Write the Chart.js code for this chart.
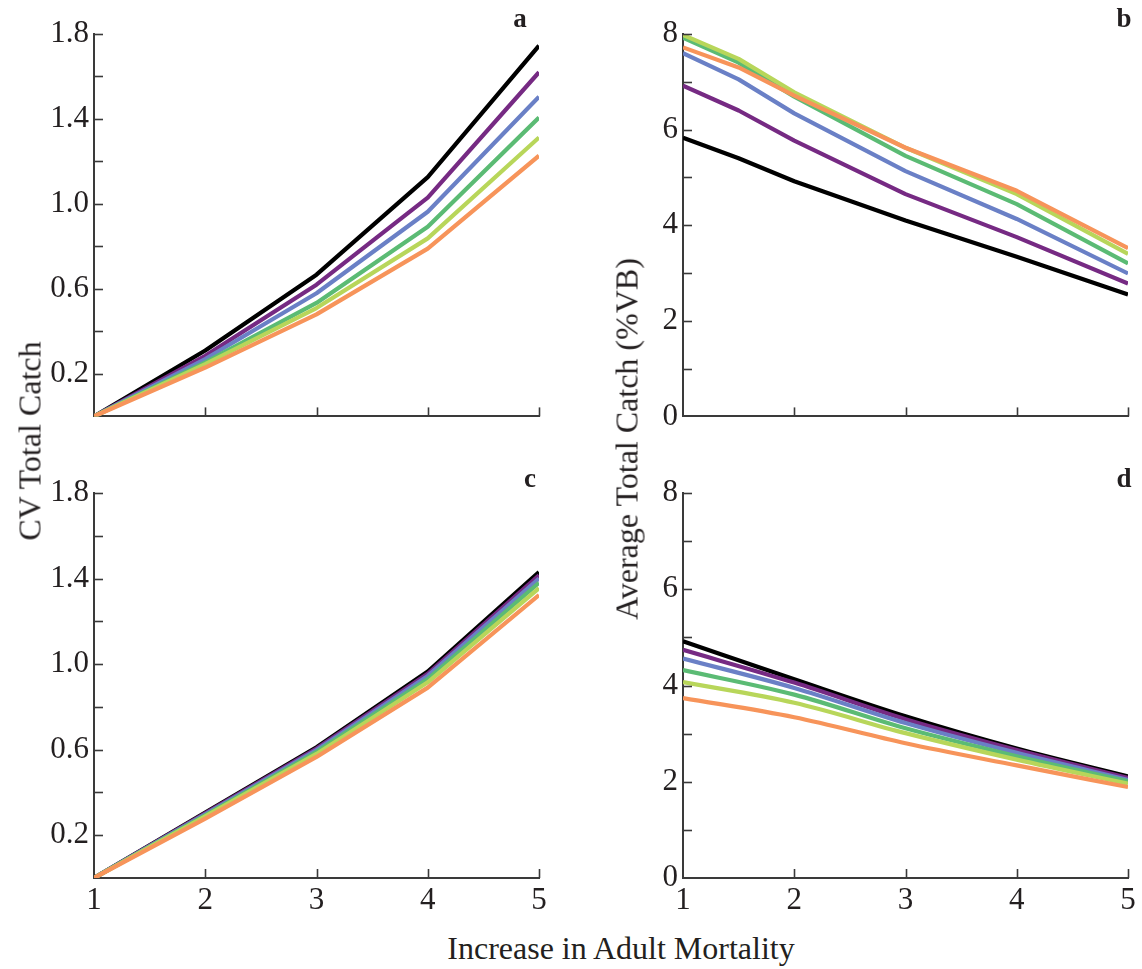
<!DOCTYPE html>
<html>
<head>
<meta charset="utf-8">
<script src="https://cdn.jsdelivr.net/npm/chart.js@4/dist/chart.umd.min.js"></script>
<style>
  html, body { margin: 0; padding: 0; background: #ffffff; }
  #wrap { position: relative; width: 1142px; height: 969px; background: #ffffff; overflow: hidden; }
  canvas { position: absolute; }
  .t { position: absolute; font-family: "Liberation Serif", "Times New Roman", serif; color: #231f20; white-space: nowrap; }
  .title { font-size: 32px; }
  .letter { font-size: 27px; font-weight: bold; }
</style>
</head>
<body>
<div id="wrap">
  <canvas id="ca" width="560" height="440" style="left:0px;top:0px;"></canvas>
  <canvas id="cb" width="553" height="440" style="left:589px;top:0px;"></canvas>
  <canvas id="cc" width="560" height="480" style="left:0px;top:440px;"></canvas>
  <canvas id="cd" width="553" height="480" style="left:589px;top:440px;"></canvas>
  <div class="t title" style="left:30px;top:441px;transform:translate(-50%,-50%) rotate(-90deg);">CV Total Catch</div>
  <div class="t title" style="left:627px;top:439px;transform:translate(-50%,-50%) rotate(-90deg);">Average Total Catch (%VB)</div>
  <div class="t title" style="left:621px;top:948px;transform:translate(-50%,-50%);">Increase in Adult Mortality</div>
  <div class="t letter" style="left:520px;top:18px;transform:translate(-50%,-50%);">a</div>
  <div class="t letter" style="left:1124px;top:18px;transform:translate(-50%,-50%);">b</div>
  <div class="t letter" style="left:530px;top:478px;transform:translate(-50%,-50%);">c</div>
  <div class="t letter" style="left:1124px;top:478px;transform:translate(-50%,-50%);">d</div>
</div>
<script>
// ---------- data ----------
const xsA = [1, 2, 3, 4, 5];
const xsB = [1, 1.5, 2, 3, 4, 5];
const xsC = [1, 2, 3, 4, 5];
const xsD = [1, 2, 3, 4, 5];

const seriesNames = ["black", "purple", "blue", "green", "lime", "orange"];
const seriesColors = ["#000000", "#762a83", "#6a80c6", "#5bbb74", "#b8d65a", "#f7945a"];

// Panel a: CV total catch
const aBlack  = [0, 0.310, 0.667, 1.126, 1.745];
const aPurple = [0, 0.285, 0.620, 1.030, 1.620];
const aBlue   = [0, 0.270, 0.580, 0.963, 1.505];
const aGreen  = [0, 0.254, 0.534, 0.893, 1.407];
const aLime   = [0, 0.246, 0.510, 0.838, 1.313];
const aOrange = [0, 0.230, 0.480, 0.790, 1.227];

// Panel b: average total catch (%VB)
const bBlack  = [5.83, 5.40, 4.92, 4.10, 3.34, 2.55];
const bPurple = [6.92, 6.40, 5.77, 4.65, 3.75, 2.78];
const bBlue   = [7.60, 7.05, 6.34, 5.13, 4.13, 2.99];
const bGreen  = [7.92, 7.40, 6.69, 5.45, 4.44, 3.20];
const bLime   = [7.98, 7.48, 6.78, 5.62, 4.65, 3.40];
const bOrange = [7.72, 7.30, 6.71, 5.62, 4.72, 3.52];

// Panel c: CV total catch
const cBlack  = [0, 0.306, 0.611, 0.965, 1.430];
const cPurple = [0, 0.302, 0.605, 0.955, 1.415];
const cBlue   = [0, 0.298, 0.598, 0.945, 1.400];
const cGreen  = [0, 0.293, 0.590, 0.930, 1.380];
const cLime   = [0, 0.288, 0.580, 0.915, 1.355];
const cOrange = [0, 0.278, 0.566, 0.890, 1.323];

// Panel d: average total catch (%VB)
const dBlack  = [4.92, 4.13, 3.36, 2.69, 2.11];
const dPurple = [4.74, 4.06, 3.30, 2.66, 2.08];
const dBlue   = [4.56, 3.95, 3.22, 2.60, 2.04];
const dGreen  = [4.32, 3.81, 3.11, 2.53, 2.01];
const dLime   = [4.07, 3.64, 3.01, 2.46, 1.96];
const dOrange = [3.74, 3.34, 2.80, 2.34, 1.89];

const xTickValues = [1, 2, 3, 4, 5];
const cvTickLabels = ["0.2", "0.6", "1.0", "1.4", "1.8"];
const catchTickLabels = ["0", "2", "4", "6", "8"];

// ---------- helpers ----------
const FONT = "'Liberation Serif', 'Times New Roman', serif";
const TEXT = "#231f20";
const AXIS = "#3a3a3a";

const inwardTicks = {
  id: "inwardTicks",
  afterDraw(chart) {
    const ctx = chart.ctx;
    const area = chart.chartArea;
    const L = 9;
    ctx.save();
    ctx.strokeStyle = AXIS;
    ctx.lineWidth = 1.6;
    const xs = chart.scales.x, ys = chart.scales.y;
    xs.ticks.forEach(t => {
      const px = Math.round(xs.getPixelForValue(t.value)) + 0.5;
      if (Math.abs(px - area.left) < 2) return;
      ctx.beginPath();
      ctx.moveTo(px, area.bottom);
      ctx.lineTo(px, area.bottom - L);
      ctx.stroke();
    });
    ys.ticks.forEach(t => {
      const py = Math.round(ys.getPixelForValue(t.value)) + 0.5;
      if (Math.abs(py - area.bottom) < 2) return;
      ctx.beginPath();
      ctx.moveTo(area.left, py);
      ctx.lineTo(area.left + L, py);
      ctx.stroke();
    });
    ctx.restore();
  }
};

function makeDatasets(xs, arrays, smooth) {
  // draw order: first dataset drawn on top -> orange on top
  const order = [5, 4, 3, 2, 1, 0];
  return order.map(i => ({
    label: seriesNames[i],
    data: xs.map((x, k) => ({ x: x, y: arrays[i][k] })),
    borderColor: seriesColors[i],
    backgroundColor: seriesColors[i],
    borderWidth: 4.2,
    pointRadius: 0,
    tension: smooth ? 0.4 : 0,
    cubicInterpolationMode: smooth ? "monotone" : "default",
    fill: false,
    borderJoinStyle: "round",
    borderCapStyle: "butt"
  }));
}

function makeChart(id, xs, arrays, cfg) {
  const ymax = cfg.ymax;
  const step = cfg.step;
  return new Chart(document.getElementById(id), {
    type: "line",
    data: { datasets: makeDatasets(xs, arrays, cfg.smooth) },
    plugins: [inwardTicks],
    options: {
      responsive: false,
      animation: false,
      devicePixelRatio: 1,
      layout: { padding: { left: 0, top: cfg.top, right: cfg.right, bottom: 0 } },
      plugins: { legend: { display: false }, tooltip: { enabled: false } },
      scales: {
        x: {
          type: "linear",
          min: 1, max: 5,
          afterBuildTicks: s => { s.ticks = xTickValues.map(v => ({ value: v })); },
          afterFit: s => { s.height = cfg.xh; },
          grid: { display: false, drawTicks: false },
          border: { display: true, color: AXIS, width: 2 },
          ticks: {
            display: cfg.xlabels,
            autoSkip: false,
            maxRotation: 0,
            padding: 4,
            color: TEXT,
            font: { family: FONT, size: 31 },
            callback: v => String(v)
          }
        },
        y: {
          type: "linear",
          min: 0, max: ymax,
          afterBuildTicks: s => {
            const t = [];
            const n = Math.round(ymax / step);
            for (let i = 0; i <= n; i++) t.push({ value: +(i * step).toFixed(4) });
            s.ticks = t;
          },
          afterFit: s => { s.width = 94; },
          grid: { display: false, drawTicks: false },
          border: { display: true, color: AXIS, width: 2 },
          ticks: {
            autoSkip: false,
            padding: 5,
            color: TEXT,
            font: { family: FONT, size: 31 },
            callback: v => {
              const labels = cfg.labels;
              const s = cfg.fmt(v);
              return labels.indexOf(s) >= 0 ? s : "";
            }
          }
        }
      }
    }
  });
}

const cvFmt = v => (Math.round(v * 10) / 10).toFixed(1);
const catchFmt = v => String(Math.round(v));

makeChart("ca", xsA, [aBlack, aPurple, aBlue, aGreen, aLime, aOrange],
  { ymax: 1.8, step: 0.2, top: 34, right: 21, xh: 20, xlabels: false, labels: cvTickLabels, fmt: cvFmt, smooth: false });
makeChart("cb", xsB, [bBlack, bPurple, bBlue, bGreen, bLime, bOrange],
  { ymax: 8, step: 1, top: 34, right: 14, xh: 20, xlabels: false, labels: catchTickLabels, fmt: catchFmt, smooth: false });
makeChart("cc", xsC, [cBlack, cPurple, cBlue, cGreen, cLime, cOrange],
  { ymax: 1.8, step: 0.2, top: 53, right: 21, xh: 42, xlabels: true, labels: cvTickLabels, fmt: cvFmt, smooth: false });
makeChart("cd", xsD, [dBlack, dPurple, dBlue, dGreen, dLime, dOrange],
  { ymax: 8, step: 1, top: 53, right: 14, xh: 42, xlabels: true, labels: catchTickLabels, fmt: catchFmt, smooth: true });
</script>
</body>
</html>
